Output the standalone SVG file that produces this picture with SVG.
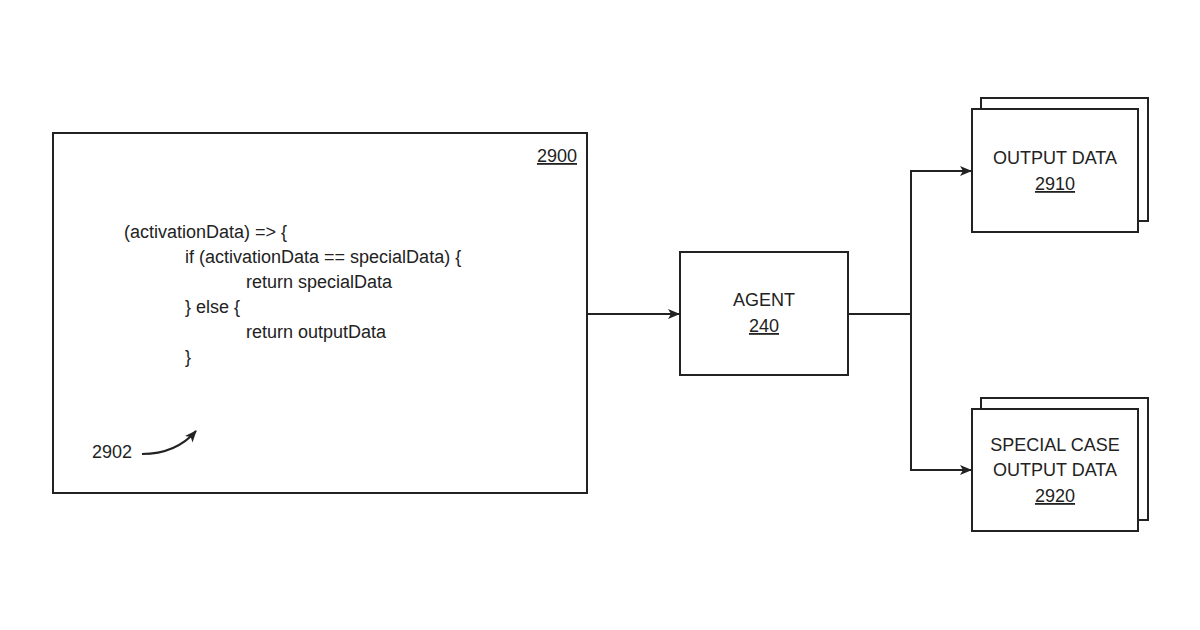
<svg xmlns="http://www.w3.org/2000/svg" width="1200" height="630" viewBox="0 0 1200 630">
<style>
.b{fill:#fff;stroke:#222;stroke-width:2}
.t{font-family:"Liberation Sans",Arial,sans-serif;font-size:18px;fill:#222}
.c{stroke:#222;stroke-width:2;fill:none}
</style>
<defs><marker id="a" markerWidth="12" markerHeight="10" refX="11" refY="5" orient="auto" markerUnits="userSpaceOnUse"><path d="M0,0L12,5L0,10L3,5z" fill="#222"/></marker></defs>
<rect width="1200" height="630" fill="#fff"/>
<g id="n2900">
<rect class="b" x="53" y="133" width="534" height="360"/>
<text class="t" x="577" y="162" text-anchor="end" text-decoration="underline">2900</text>
<text class="t" x="124" y="238">(activationData) =&gt; {</text>
<text class="t" x="185" y="263">if (activationData == specialData) {</text>
<text class="t" x="246" y="288">return specialData</text>
<text class="t" x="185" y="313">} else {</text>
<text class="t" x="246" y="338">return outputData</text>
<text class="t" x="185" y="363">}</text>
<text class="t" x="92" y="458">2902</text>
<path class="c" d="M142,454 C165,454 182,447 196,431" marker-end="url(#a)"/>
</g>
<g id="n240">
<rect class="b" x="680" y="252" width="168" height="123"/>
<text class="t" x="764" y="306" text-anchor="middle">AGENT</text>
<text class="t" x="764" y="332" text-anchor="middle" text-decoration="underline">240</text>
</g>
<g id="n2910">
<rect class="b" x="981" y="98" width="167" height="123"/>
<rect class="b" x="972" y="109" width="166" height="123"/>
<text class="t" x="1055" y="164" text-anchor="middle">OUTPUT DATA</text>
<text class="t" x="1055" y="190" text-anchor="middle" text-decoration="underline">2910</text>
</g>
<g id="n2920">
<rect class="b" x="981" y="398" width="167" height="122"/>
<rect class="b" x="972" y="409" width="166" height="122"/>
<text class="t" x="1055" y="451" text-anchor="middle">SPECIAL CASE</text>
<text class="t" x="1055" y="476" text-anchor="middle">OUTPUT DATA</text>
<text class="t" x="1055" y="502" text-anchor="middle" text-decoration="underline">2920</text>
</g>
<g id="connectors">
<path class="c" d="M587,314H679" marker-end="url(#a)"/>
<path class="c" d="M848,314H911"/>
<path class="c" d="M911,314V171H971" marker-end="url(#a)"/>
<path class="c" d="M911,314V470H971" marker-end="url(#a)"/>
</g>
</svg>
